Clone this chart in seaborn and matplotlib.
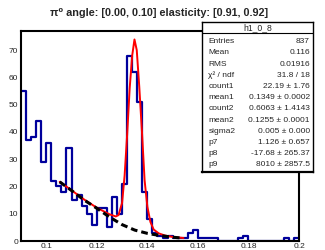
import matplotlib
matplotlib.use('Agg')
import matplotlib.pyplot as plt
from matplotlib.ticker import MultipleLocator
import numpy as np
import pandas as pd
import seaborn as sns

# histogram contents, 0.002 wide bins from 0.09 to 0.2
counts = [55, 37, 38, 44, 29, 36, 22, 20, 18, 34,
          15, 17, 13, 10, 6, 12, 12, 5, 16, 10,
          21, 68, 62, 51, 18, 8, 3, 2, 1, 2,
          1, 1, 1, 3, 4, 1, 1, 1, 1, 0,
          0, 0, 0, 1, 2, 0, 0, 0, 0, 0,
          0, 0, 1, 0, 1]

# total fit (red)
fit_x = [0.1053, 0.110, 0.115, 0.120, 0.125, 0.1275, 0.1286, 0.130, 0.131,
         0.132, 0.133, 0.134, 0.1349, 0.1358, 0.1368, 0.1379, 0.1389, 0.140,
         0.1412, 0.1425, 0.1445, 0.147, 0.150, 0.1543]
fit_y = [21.7, 18.6, 15.2, 12.2, 9.8, 9.0, 9.5, 14.0, 24.0,
         39.0, 56.0, 68.0, 73.9, 70.0, 56.5, 39.4, 22.3, 12.6,
         7.0, 4.2, 2.8, 2.0, 1.5, 1.1]

# background (black dashed)
bg_x = [0.1053, 0.110, 0.115, 0.120, 0.125, 0.130, 0.135, 0.140, 0.145, 0.150, 0.1543]
bg_y = [21.7, 18.5, 15.0, 12.0, 8.8, 6.0, 4.0, 2.8, 2.0, 1.4, 1.0]

title = 'π⁰ angle: [0.00, 0.10] elasticity: [0.91, 0.92]'
hist_name = 'h1_0_8'
stat_names = ['Entries', 'Mean', 'RMS', 'χ² / ndf', 'count1', 'mean1', 'count2',
              'mean2', 'sigma2', 'p7', 'p8', 'p9']
stat_values = ['837', '0.116', '0.01916', '31.8 / 18', '22.19 ± 1.76',
               '0.1349 ± 0.0002', '0.6063 ± 1.4143', '0.1255 ± 0.0001',
               '0.005 ± 0.000', '1.126 ± 0.657', '-17.68 ± 265.37', '8010 ± 2857.5']
xtick_vals = [0.1, 0.12, 0.14, 0.16, 0.18, 0.2]
xtick_labels = ['0.1', '0.12', '0.14', '0.16', '0.18', '0.2']

sns.set_theme(style='white')
plt.rcParams['font.family'] = ['Liberation Sans', 'DejaVu Sans']

W, H = 325, 250
fig = plt.figure(figsize=(W / 100, H / 100), dpi=100)
ax = fig.add_axes([21 / W, 1 - 241 / H, (299 - 21) / W, (241 - 31) / H])

edges = np.linspace(0.09, 0.2, len(counts) + 1)
hist_df = pd.DataFrame({'x': (edges[:-1] + edges[1:]) / 2, 'n': counts})
sns.histplot(data=hist_df, x='x', weights='n', bins=list(edges), element='step',
             fill=False, color='#00009c', linewidth=1.6, ax=ax)
sns.lineplot(x=fit_x, y=fit_y, color='red', linewidth=1.4, ax=ax)
sns.lineplot(x=bg_x, y=bg_y, color='black', linewidth=2.2, ax=ax)
ax.lines[-1].set_dashes([2.2, 1.3])

ax.set_xlim(0.09, 0.2)
ax.set_ylim(0, 77)
ax.set_xlabel('')
ax.set_ylabel('')
ax.set_xticks(xtick_vals)
ax.set_xticklabels(xtick_labels)
ax.xaxis.set_minor_locator(MultipleLocator(0.005))
ax.yaxis.set_major_locator(MultipleLocator(10))
ax.yaxis.set_minor_locator(MultipleLocator(2))
ax.tick_params(which='both', direction='in', color='black', labelsize=6, width=1.2)
ax.tick_params(which='major', length=5.5)
ax.tick_params(which='minor', length=3)
ax.tick_params(axis='x', pad=1.5)
ax.tick_params(axis='y', pad=2)
for s in ax.spines.values():
    s.set_linewidth(1.5)
    s.set_color('black')

fig.text(159 / W, 1 - 13 / H, title, ha='center', va='center', fontsize=7.8,
         fontweight='bold')

# stats box
bx0, bx1, by0, by1 = 202, 313, 22, 171.5
sax = fig.add_axes([bx0 / W, 1 - by1 / H, (bx1 - bx0) / W, (by1 - by0) / H])
sax.set_xticks([])
sax.set_yticks([])
sax.set_xlim(0, 1)
sax.set_ylim(0, 1)
sax.set_facecolor('white')
for s in sax.spines.values():
    s.set_linewidth(1)
    s.set_color('black')
sax.spines['bottom'].set_linewidth(1.6)
div = (by1 - 33.3) / (by1 - by0)
sax.axhline(div, color='black', linewidth=0.8)
sax.text(0.5, (by1 - 28) / (by1 - by0), hist_name, ha='center', va='center', fontsize=6.2)
for i, (n, v) in enumerate(zip(stat_names, stat_values)):
    yy = (by1 - (41.7 + 11.2 * i)) / (by1 - by0)
    sax.text((208.3 - bx0) / (bx1 - bx0), yy, n, ha='left', va='center', fontsize=6)
    sax.text((310 - bx0) / (bx1 - bx0), yy, v, ha='right', va='center', fontsize=6)

fig.savefig('out.png', dpi=100)
